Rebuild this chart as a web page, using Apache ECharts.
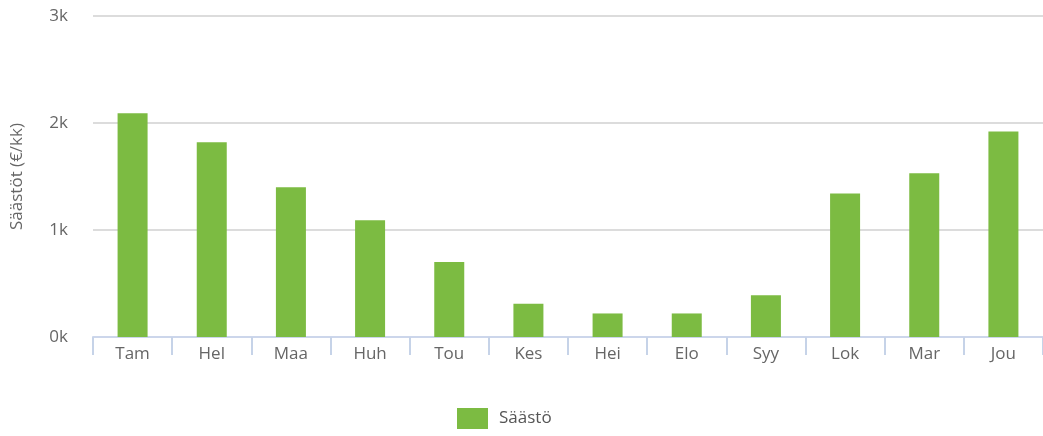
<!DOCTYPE html>
<html>
<head>
<meta charset="utf-8">
<script src="https://cdn.jsdelivr.net/npm/echarts@6/dist/echarts.min.js"></script>
<style>
  html, body { margin: 0; padding: 0; background: #fff; }
  #main { width: 1043px; height: 436px; }
</style>
</head>
<body>
<div id="main"></div>
<script>
// kuukaudet
var months = ['Tam', 'Hel', 'Maa', 'Huh', 'Tou', 'Kes', 'Hei', 'Elo', 'Syy', 'Lok', 'Mar', 'Jou'];
// säästöt €/kk
var savings = [2090, 1820, 1400, 1090, 700, 310, 220, 220, 390, 1340, 1530, 1920];
var yTicks = [0, 1000, 2000, 3000];

var chart = echarts.init(document.getElementById('main'));
chart.setOption({
    animation: false,
    textStyle: { fontFamily: 'Open Sans' },
    grid: { left: 93, right: -1, top: 16, bottom: 99 },
    legend: {
        bottom: 2,
        left: 452,
        itemWidth: 31,
        itemHeight: 21,
        icon: 'rect',
        textStyle: { fontSize: 17, color: '#555', padding: [0, 0, 0, 6] },
        data: ['Säästö']
    },
    xAxis: {
        type: 'category',
        data: months,
        axisLine: { lineStyle: { color: '#ccd6eb', width: 2 } },
        axisTick: { show: true, length: 18, lineStyle: { color: '#c6d3e8', width: 2 } },
        axisLabel: { fontSize: 17, color: '#666', margin: 9 }
    },
    yAxis: {
        type: 'value',
        min: yTicks[0],
        max: yTicks[yTicks.length - 1],
        interval: 1000,
        name: 'Säästöt (€/kk)',
        nameLocation: 'middle',
        nameGap: 67,
        nameTextStyle: { fontSize: 17, color: '#666' },
        axisLabel: {
            fontSize: 17, color: '#666', margin: 25,
            formatter: function (v) { return (v / 1000) + 'k'; }
        },
        splitLine: { lineStyle: { color: '#dcdcdc', width: 2 } }
    },
    series: [{
        name: 'Säästö',
        type: 'bar',
        data: savings,
        barWidth: 30,
        itemStyle: { color: '#7cbb42' }
    }]
});
</script>
</body>
</html>
